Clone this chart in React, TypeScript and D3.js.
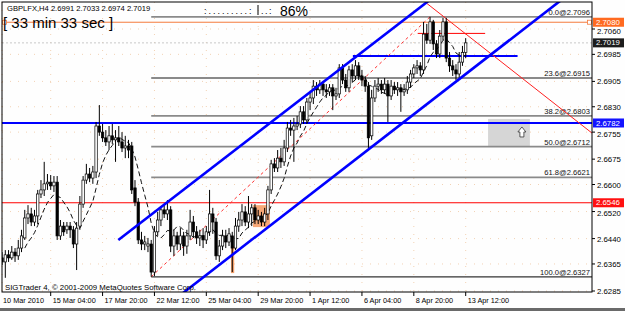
import React from 'react';
import * as d3 from 'd3';

const symbolName = 'GBPLFX,H4';

const opens = [2.6383,2.6371,2.6392,2.6383,2.6400,2.6389,2.6412,2.6442,2.6501,2.6513,
2.6489,2.6507,2.6572,2.6584,2.6602,2.6607,2.6596,2.6607,2.6448,2.6477,
2.6466,2.6477,2.6466,2.6424,2.6477,2.6542,2.6613,2.6631,2.6619,2.6637,
2.6773,2.6755,2.6738,2.6726,2.6744,2.6732,2.6738,2.6726,2.6708,2.6714,
2.6714,2.6590,2.6548,2.6436,2.6424,2.6418,2.6424,2.6341,2.6460,2.6495,
2.6525,2.6513,2.6525,2.6418,2.6448,2.6424,2.6448,2.6418,2.6448,2.6489,
2.6460,2.6442,2.6448,2.6436,2.6460,2.6513,2.6489,2.6389,2.6418,2.6448,
2.6430,2.6448,2.6412,2.6477,2.6495,2.6519,2.6489,2.6513,2.6531,2.6495,
2.6507,2.6489,2.6513,2.6584,2.6661,2.6649,2.6678,2.6667,2.6708,2.6767,
2.6761,2.6773,2.6779,2.6815,2.6791,2.6844,2.6856,2.6891,2.6880,2.6897,
2.6880,2.6874,2.6886,2.6862,2.6868,2.6945,2.6909,2.6886,2.6939,2.6921,
2.6951,2.6921,2.6909,2.6891,2.6744,2.6856,2.6891,2.6897,2.6880,2.6897,
2.6862,2.6891,2.6880,2.6886,2.6874,2.6880,2.6903,2.6927,2.6945,2.6951,
2.6939,2.7045,2.7027,2.7081,2.7016,2.6986,2.7039,2.7081,2.6974,2.6951,
2.6939,2.6927,2.6962,2.6991];

const highs = [2.6400,2.6406,2.6406,2.6418,2.6412,2.6436,2.6466,2.6525,2.6539,2.6531,
2.6525,2.6584,2.6613,2.6667,2.6631,2.6628,2.6625,2.6625,2.6495,2.6489,
2.6489,2.6489,2.6477,2.6489,2.6566,2.6625,2.6661,2.6649,2.6655,2.6785,
2.6835,2.6779,2.6761,2.6773,2.6779,2.6761,2.6773,2.6755,2.6744,2.6732,
2.6726,2.6613,2.6560,2.6460,2.6448,2.6442,2.6436,2.6477,2.6519,2.6536,
2.6542,2.6554,2.6536,2.6466,2.6460,2.6471,2.6460,2.6466,2.6525,2.6507,
2.6477,2.6466,2.6471,2.6477,2.6584,2.6531,2.6501,2.6436,2.6466,2.6466,
2.6471,2.6460,2.6501,2.6519,2.6542,2.6536,2.6566,2.6542,2.6542,2.6525,
2.6519,2.6531,2.6596,2.6673,2.6678,2.6702,2.6708,2.6732,2.6785,2.6791,
2.6797,2.6803,2.6832,2.6832,2.6856,2.6874,2.6909,2.6903,2.6909,2.6903,
2.6897,2.6897,2.6897,2.6886,2.6956,2.6956,2.6927,2.6951,2.6956,2.6968,
2.6962,2.6939,2.6921,2.6903,2.6880,2.6909,2.6915,2.6909,2.6915,2.6909,
2.6909,2.6903,2.6903,2.6897,2.6897,2.6921,2.6939,2.6956,2.6968,2.6962,
2.7081,2.7075,2.7096,2.7087,2.7027,2.7057,2.7093,2.7093,2.6992,2.6968,
2.6956,2.6992,2.7010,2.7033];

const lows = [2.6362,2.6324,2.6371,2.6377,2.6371,2.6377,2.6400,2.6436,2.6483,2.6477,
2.6477,2.6483,2.6560,2.6566,2.6584,2.6584,2.6578,2.6436,2.6436,2.6448,
2.6454,2.6442,2.6412,2.6347,2.6466,2.6531,2.6602,2.6607,2.6602,2.6619,
2.6744,2.6726,2.6714,2.6702,2.6720,2.6667,2.6714,2.6696,2.6678,2.6678,
2.6572,2.6536,2.6424,2.6406,2.6406,2.6400,2.6327,2.6329,2.6448,2.6477,
2.6501,2.6495,2.6400,2.6389,2.6406,2.6406,2.6389,2.6395,2.6436,2.6442,
2.6424,2.6418,2.6412,2.6424,2.6448,2.6454,2.6377,2.6371,2.6406,2.6412,
2.6418,2.6341,2.6406,2.6460,2.6477,2.6477,2.6471,2.6477,2.6483,2.6483,
2.6477,2.6477,2.6495,2.6572,2.6637,2.6637,2.6649,2.6655,2.6696,2.6744,
2.6667,2.6761,2.6767,2.6779,2.6779,2.6820,2.6838,2.6862,2.6868,2.6862,
2.6856,2.6862,2.6820,2.6850,2.6856,2.6897,2.6874,2.6874,2.6903,2.6909,
2.6909,2.6891,2.6874,2.6708,2.6732,2.6844,2.6874,2.6868,2.6868,2.6785,
2.6850,2.6868,2.6862,2.6815,2.6862,2.6868,2.6886,2.6915,2.6927,2.6921,
2.6927,2.7016,2.7016,2.6998,2.6974,2.6974,2.7027,2.6962,2.6933,2.6921,
2.6909,2.6915,2.6951,2.6974];

const closes = [2.6371,2.6392,2.6383,2.6400,2.6389,2.6412,2.6448,2.6501,2.6513,2.6489,
2.6507,2.6572,2.6584,2.6602,2.6607,2.6596,2.6607,2.6448,2.6477,2.6460,
2.6477,2.6466,2.6424,2.6471,2.6542,2.6613,2.6631,2.6619,2.6637,2.6773,
2.6755,2.6738,2.6726,2.6744,2.6732,2.6738,2.6726,2.6708,2.6714,2.6702,
2.6584,2.6548,2.6436,2.6424,2.6430,2.6424,2.6341,2.6460,2.6495,2.6525,
2.6513,2.6525,2.6418,2.6448,2.6424,2.6448,2.6418,2.6448,2.6489,2.6460,
2.6442,2.6448,2.6436,2.6460,2.6513,2.6489,2.6389,2.6418,2.6448,2.6430,
2.6454,2.6412,2.6477,2.6495,2.6519,2.6489,2.6513,2.6531,2.6495,2.6507,
2.6489,2.6513,2.6584,2.6661,2.6649,2.6678,2.6667,2.6708,2.6767,2.6761,
2.6773,2.6779,2.6815,2.6791,2.6844,2.6856,2.6891,2.6880,2.6897,2.6880,
2.6874,2.6886,2.6862,2.6868,2.6945,2.6909,2.6886,2.6939,2.6921,2.6951,
2.6921,2.6909,2.6891,2.6738,2.6856,2.6891,2.6897,2.6880,2.6897,2.6862,
2.6891,2.6880,2.6886,2.6874,2.6880,2.6903,2.6927,2.6945,2.6951,2.6939,
2.7045,2.7027,2.7081,2.7016,2.6986,2.7039,2.7081,2.6974,2.6951,2.6939,
2.6927,2.6962,2.6991,2.7019];

const dateTickBars = [0, 15, 31, 47, 63, 79, 95, 111, 127, 143];
const dateTickLabels = ['10 Mar 2010', '15 Mar 04:00', '17 Mar 20:00', '22 Mar 12:00', '25 Mar 04:00',
  '29 Mar 20:00', '1 Apr 12:00', '6 Apr 04:00', '8 Apr 20:00', '13 Apr 12:00'];

const priceTicks = [2.7060, 2.6985, 2.6905, 2.6830, 2.6755, 2.6675, 2.6600, 2.6520, 2.6440, 2.6365, 2.6285];

const fibRatios = ['0.0', '23.6', '38.2', '50.0', '61.8', '100.0'];
const fibPrices = [2.7096, 2.6915, 2.6803, 2.6712, 2.6621, 2.6327];
const fibStartBar = 46;
const fibEndBar = 132;

// horizontal price lines (full width)
const orangeLevel = 2.7080;
const blueLevel = 2.6782;
const redLevel = 2.6546;

// trend lines [bar, price]
const upperChannel = [[35.85, 2.6436], [107.84, 2.6968]];
const lowerChannel = [[61.05, 2.6318], [128.9, 2.6822]];
const redDownLine = [[130.45, 2.7140], [181.97, 2.6752]];
const blueShortLine = [[108.2, 2.6980], [159.0, 2.6980]];
const redShortLine = [[128.2, 2.7047], [149.0, 2.7047]];

// rectangles [bar1, bar2, price1, price2]
const grayBox = [149.9, 162.8, 2.6794, 2.6711];
const orangeBox = [77.4, 82.6, 2.6539, 2.6474];
const orangeStripe = [70.6, 71.6, 2.6418, 2.6338];

const timerText = '[ 33 min 33 sec ]';
const progressDots = ':.........:';
const progressTail = '..:';
const progressPct = '86%';
const copyright = 'SIGTrader 4, \u00a9 2001-2009 MetaQuotes Software Corp.';

const FONT = 'Liberation Sans, Arial, sans-serif';

export default function App() {
  const W = 625, H = 311;
  const PL = 2, PR = 592, PT = 2, PB = 292;
  const x = d3.scaleLinear().domain([0, 143]).range([2.07, 465.7]);
  const y = d3.scaleLinear().domain([2.6285, 2.7060]).range([291, 29]);
  const n = closes.length;
  const last = n - 1;

  const extend = (pts: number[][], b0: number, b1: number) => {
    const [[a1, p1], [a2, p2]] = pts;
    const k = (p2 - p1) / (a2 - a1);
    return [x(b0), y(p1 + (b0 - a1) * k), x(b1), y(p1 + (b1 - a1) * k)];
  };

  const maPeriod = 8;
  const ma = closes.map((_, i) => (i < maPeriod - 1 ? null : d3.mean(closes.slice(i - maPeriod + 1, i + 1)) as number));
  const maLine = d3.line<number | null>()
    .defined((d) => d !== null)
    .x((_, i) => x(i))
    .y((d) => y(d as number));

  const up = extend(upperChannel, upperChannel[0][0], 220);
  const lo = extend(lowerChannel, 30, 220);
  const rd = extend(redDownLine, redDownLine[0][0], 220);
  const fibBase = extend([[fibStartBar, fibPrices[5]], [fibEndBar, fibPrices[0]]], fibStartBar, fibEndBar);

  const rect = (r: number[], fill: string, key: string) => (
    <rect key={key} x={x(r[0])} y={y(r[2])} width={x(r[1]) - x(r[0])} height={y(r[3]) - y(r[2])} fill={fill} />
  );

  const cx = x(grayBox[1]) - 8;
  const cy = (y(grayBox[2]) + y(grayBox[3])) / 2 - 1;

  const boxLevels = [orangeLevel, closes[last], blueLevel, redLevel];

  const axisLabel = (price: number, fill: string, key: string) => (
    <g key={key}>
      <rect x={593} y={y(price) - 4.5} width={31} height={9} fill={fill} />
      <text x={596} y={y(price) + 2.6} fontSize={7.8} fill="#fff" fontFamily={FONT}>{price.toFixed(4)}</text>
    </g>
  );

  const tickOffset = (p: number) => {
    const near = boxLevels.some((b) => y(p) - y(b) > 0 && y(p) - y(b) < 11);
    return near ? 4.5 : 3;
  };

  return (
    <svg width={W} height={H} style={{ position: 'absolute', left: 0, top: 0, background: '#fff' }}>
      <defs>
        <clipPath id="plot"><rect x={PL} y={PT} width={PR - PL} height={PB - PT} /></clipPath>
      </defs>
      <rect x={0} y={0} width={W} height={H} fill="#fefefe" />
      {/* dotted grid */}
      <g stroke="#f2d2b4" strokeWidth={1} strokeDasharray="1,7">
        {priceTicks.map((p) => <line key={'gh' + p} x1={PL} x2={PR} y1={y(p)} y2={y(p)} />)}
        {dateTickBars.map((b) => <line key={'gv' + b} x1={x(b)} x2={x(b)} y1={PT} y2={PB} />)}
      </g>
      <g clipPath="url(#plot)">
        {rect(orangeStripe, '#f4a06c', 'os')}
        {rect(orangeBox, '#f7a878', 'ob')}
        {rect(grayBox, '#d6d6d6', 'gb')}
        <path d={`M${cx},${cy - 5} L${cx + 4},${cy} L${cx + 2},${cy} L${cx + 2},${cy + 5} L${cx - 2},${cy + 5} L${cx - 2},${cy} L${cx - 4},${cy} Z`} fill="#fff" stroke="#333" strokeWidth={0.8} />
        {/* fibonacci levels */}
        {fibPrices.map((p, i) => (
          <line key={'fib' + i} x1={x(fibStartBar)} x2={PR} y1={y(p)} y2={y(p)} stroke={i === 5 ? '#333' : '#8a8a8a'} strokeWidth={i === 5 ? 1.3 : 1.8} />
        ))}
        {fibPrices.map((p, i) => (
          <text key={'fibt' + i} x={590} y={y(p) - 2} textAnchor="end" fontSize={7.6} fill="#111" fontFamily={FONT}>{`${fibRatios[i]}@${p.toFixed(4)}`}</text>
        ))}
        {/* bid line */}
        <line x1={PL} x2={PR} y1={y(closes[last])} y2={y(closes[last])} stroke="#c8c8c8" strokeDasharray="2,2" />
        {/* horizontal levels */}
        <line x1={PL} x2={PR} y1={y(redLevel)} y2={y(redLevel)} stroke="#ff0000" strokeWidth={1} />
        <line x1={PL} x2={PR} y1={y(blueLevel)} y2={y(blueLevel)} stroke="#0000ff" strokeWidth={2} />
        <line x1={PL} x2={PR} y1={y(orangeLevel)} y2={y(orangeLevel)} stroke="#f47a3c" strokeWidth={1} />
        <rect x={PL + 0.5} y={y(orangeLevel) - 2} width={4} height={4} fill="#fff" stroke="#f47a3c" strokeWidth={0.8} />
        <rect x={PR - 4.5} y={y(orangeLevel) - 2} width={4} height={4} fill="#fff" stroke="#f47a3c" strokeWidth={0.8} />
        {/* short lines */}
        <line x1={x(blueShortLine[0][0])} x2={x(blueShortLine[1][0])} y1={y(blueShortLine[0][1])} y2={y(blueShortLine[1][1])} stroke="#0000ff" strokeWidth={2} />
        <line x1={x(redShortLine[0][0])} x2={x(redShortLine[1][0])} y1={y(redShortLine[0][1])} y2={y(redShortLine[1][1])} stroke="#ff0000" strokeWidth={1} />
        {/* fib base dashed */}
        <line x1={fibBase[0]} y1={fibBase[1]} x2={fibBase[2]} y2={fibBase[3]} stroke="#ff3030" strokeWidth={1} strokeDasharray="3,3" />
        {/* red descending */}
        <line x1={rd[0]} y1={rd[1]} x2={rd[2]} y2={rd[3]} stroke="#ff2020" strokeWidth={1} />
        {/* moving average */}
        <path d={maLine(ma) || ''} fill="none" stroke="#111" strokeWidth={1} strokeDasharray="5,3" />
        {/* candles */}
        {closes.map((c, i) => {
          const o = opens[i];
          const bull = c >= o;
          const top = y(Math.max(o, c));
          const bot = y(Math.min(o, c));
          return (
            <g key={'c' + i}>
              <line x1={x(i)} x2={x(i)} y1={y(highs[i])} y2={y(lows[i])} stroke="#000" strokeWidth={1} />
              <rect x={x(i) - 1.2} y={top} width={2.4} height={Math.max(bot - top, 0.8)} fill={bull ? '#fff' : '#000'} stroke="#000" strokeWidth={0.7} />
            </g>
          );
        })}
        {/* channel lines */}
        <line x1={up[0]} y1={up[1]} x2={up[2]} y2={up[3]} stroke="#0000ff" strokeWidth={2.6} />
        <line x1={lo[0]} y1={lo[1]} x2={lo[2]} y2={lo[3]} stroke="#0000ff" strokeWidth={2.6} />
      </g>
      {/* frame */}
      <rect x={PL} y={PT} width={PR - PL} height={PB - PT} fill="none" stroke="#000" strokeWidth={1} />
      {/* price axis */}
      {priceTicks.map((p) => (
        <g key={'pt' + p}>
          <line x1={PR} x2={PR + 3} y1={y(p)} y2={y(p)} stroke="#000" />
          <text x={597} y={y(p) + tickOffset(p)} fontSize={7.8} fill="#000" fontFamily={FONT}>{p.toFixed(4)}</text>
        </g>
      ))}
      {axisLabel(orangeLevel, '#ff6a20', 'al1')}
      {axisLabel(closes[last], '#1c1c1c', 'al2')}
      {axisLabel(blueLevel, '#1414ff', 'al3')}
      {axisLabel(redLevel, '#ff1010', 'al4')}
      {/* time axis */}
      {dateTickBars.map((b, i) => (
        <g key={'dt' + b}>
          {i > 0 && <line x1={x(b)} x2={x(b)} y1={PB} y2={PB + 4} stroke="#000" />}
          <text x={i === 0 ? 3 : x(b) + 2} y={303} fontSize={7.3} fill="#000" fontFamily={FONT}>{dateTickLabels[i]}</text>
        </g>
      ))}
      {/* header */}
      <text x={7} y={10.5} fontSize={7.6} fill="#000" fontFamily={FONT}>
        {`${symbolName}  ${opens[last].toFixed(4)} ${highs[last].toFixed(4)} ${lows[last].toFixed(4)} ${closes[last].toFixed(4)}`}
      </text>
      <text x={3} y={28} fontSize={15} fill="#000" fontFamily={FONT}>{timerText}</text>
      <text x={204} y={14} fontSize={9} fill="#000" fontFamily={FONT} letterSpacing={2}>{progressDots}</text>
      <line x1={258} x2={258} y1={5} y2={15} stroke="#000" strokeWidth={1} />
      <text x={261} y={14} fontSize={9} fill="#000" fontFamily={FONT} letterSpacing={1.5}>{progressTail}</text>
      <text x={280} y={16} fontSize={14} fill="#000" fontFamily={FONT}>{progressPct}</text>
      <text x={5} y={290} fontSize={7.8} fill="#000" fontFamily={FONT}>{copyright}</text>
      <rect x={0} y={308} width={W} height={3} fill="#6a6a6a" />
    </svg>
  );
}
